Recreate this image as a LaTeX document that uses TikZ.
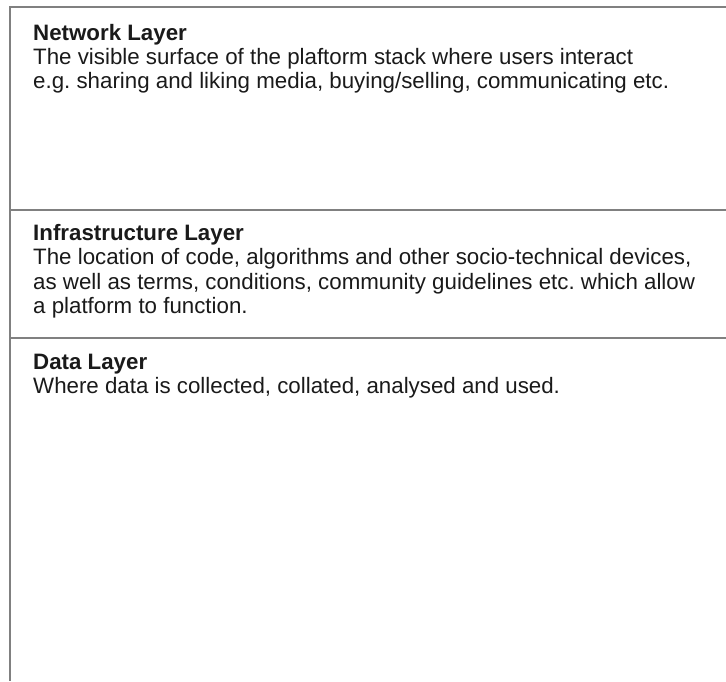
\documentclass[tikz,border=0pt]{standalone}
\usepackage{fontspec}
\setmainfont{Liberation Sans}
\frenchspacing
\definecolor{rule}{HTML}{808080}
\definecolor{ink}{HTML}{1A1A1A}
\begin{document}
\begin{tikzpicture}[x=1pt,y=-1pt,
  frame/.style={draw=rule,line width=1.5pt},
  head/.style={anchor=base west,inner sep=0pt,text=ink,font=\fontsize{22.3}{24}\selectfont\bfseries},
  body/.style={anchor=base west,inner sep=0pt,text=ink,font=\fontsize{22.3}{24}\selectfont}]
\useasboundingbox (0,0) rectangle (726,681);
\fill[white] (0,0) rectangle (726,681);
\coordinate (tl) at (10,7);
\coordinate (tr) at (726,7);
\coordinate (bl) at (10,681);
\coordinate (l1) at (10,210);
\coordinate (r1) at (726,210);
\coordinate (l2) at (10,338);
\coordinate (r2) at (726,338);
\draw[frame] (tr) -- (tl) -- (bl);
\draw[frame] (l1) -- (r1);
\draw[frame] (l2) -- (r2);
\node[head] (n1) at (33,40) {Network Layer};
\node[body] (n2) at (33,64) {The visible surface of the plaftorm stack where users interact};
\node[body] (n3) at (33,88) {e.g. sharing and liking media, buying/selling, communicating etc.};
\node[head] (i1) at (33,240) {Infrastructure Layer};
\node[body] (i2) at (33,264) {The location of code, algorithms and other socio-technical devices,};
\node[body] (i3) at (33,289) {as well as terms, conditions, community guidelines etc. which allow};
\node[body] (i4) at (33,313) {a platform to function.};
\node[head] (d1) at (33,369) {Data Layer};
\node[body] (d2) at (33,393) {Where data is collected, collated, analysed and used.};
\end{tikzpicture}
\end{document}
